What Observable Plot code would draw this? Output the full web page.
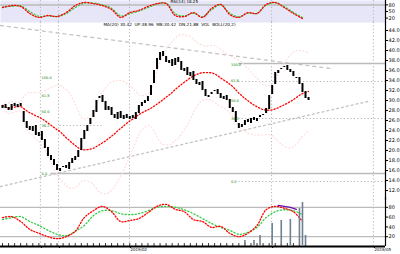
<!DOCTYPE html>
<html><head><meta charset="utf-8">
<script src="https://cdn.jsdelivr.net/npm/d3@7"></script>
<script src="https://cdn.jsdelivr.net/npm/@observablehq/plot@0.6"></script>
<style>
body{margin:0;background:#fff;}
#c{position:relative;width:400px;height:254px;overflow:hidden;font-family:"DejaVu Sans",sans-serif;}
</style></head><body><div id="c"></div>
<script>
// ---- data ----
const openP = [28.4,29.2,28.6,28.0,29.4,28.6,29.4,27.8,25.8,24.8,
 23.8,25.0,22.8,23.8,22.2,20.6,19.0,18.2,17.2,15.8,
 16.6,17.0,16.2,17.4,18.0,18.6,20.0,22.2,23.8,25.2,
 26.6,27.6,30.4,31.0,29.8,28.0,28.6,27.2,26.2,27.8,
 26.2,27.2,26.2,27.0,26.2,27.4,28.8,29.4,29.8,31.0,
 33.4,36.2,38.0,39.8,38.8,37.4,38.2,37.0,38.6,37.8,
 35.8,36.6,34.8,35.8,34.2,33.0,33.8,32.2,30.6,31.2,
 31.8,32.2,31.4,30.2,31.0,30.2,28.6,27.8,25.4,24.6,
 25.0,26.2,25.4,26.6,25.8,26.6,27.0,27.4,28.2,31.2,
 33.2,35.4,36.2,36.6,37.0,36.2,35.8,34.6,34.6,33.4,
 31.8,30.6];
const closeP = [29.0,28.4,28.0,29.2,28.8,29.2,28.8,25.6,24.4,24.0,
 24.8,23.0,23.6,22.0,20.4,18.8,18.0,17.0,16.0,16.4,
 16.8,16.4,17.6,18.4,18.8,20.0,22.4,24.0,25.0,26.4,
 28.0,30.0,30.8,29.6,28.0,28.8,27.0,26.4,27.6,26.4,
 27.0,26.4,26.8,26.4,27.6,29.0,29.6,30.0,30.8,33.0,
 36.0,38.4,39.6,38.8,37.6,38.0,36.8,38.4,37.6,36.0,
 36.4,35.0,35.6,34.0,33.2,33.6,32.0,30.8,31.0,31.6,
 32.0,31.2,30.4,30.8,30.0,28.4,27.6,25.6,24.4,25.2,
 26.0,25.6,26.4,26.0,26.4,27.0,27.2,28.4,31.0,33.0,
 35.6,36.0,36.4,36.8,36.0,35.6,34.8,34.4,33.2,31.6,
 30.4,30.0];
const oscStep = 3;
const topRed   = [68,77,73,41,23,32,27,45,77,91,86,77,59,23,45,55,73,86,86,32,27,45,23,64,82,36,23,45,41,82,91,68,41,18];
const topGreen = [70,74,75,50,28,30,28,40,68,88,88,80,64,30,40,52,68,84,88,40,30,42,26,58,80,42,26,42,42,78,90,72,46,22];
const botRed   = [59,61,51,35,27,20,16,20,31,59,73,82,71,51,53,57,69,82,86,76,71,55,51,39,41,27,20,27,43,75,82,78,71,51];
const botGreen = [55,59,61,51,43,33,25,22,31,43,63,73,73,67,65,67,73,80,82,80,75,67,57,47,39,33,25,29,39,59,71,75,73,65];
const purpIdx = [91,93,95,97];
const purpVal = [84,82,80,76];
const volIdx = [80,83,85,89,92,95,98,99,100];
const volVal = [5,5,10,22,25,26,37,43,10];
const monthIdx = [12.5,18.5,41.9,88.8,122.4];
const monthLabels = ["","","2019/02","","2019/05"];
const trendA = [[-0.66,45.0],[108.3,36.4]];
const trendB = [[-0.66,12.8],[120.5,29.8]];
const solidLevels = [37.4,15.4];
const solidFrom = [78,16];
const dotLevels = [33.8,26.4,13.8,25.0];
const dotFrom = [78,78,78,19];
const dotTo = [126.4,126.4,126.4,33];
const fibLeftP = [34.6,31.0,27.8,25.0,15.4];
const fibRightP = [37.2,34.0,30.0,26.4,13.8];
const fibLabels = ["100.0","61.8","50.0","38.2","0.0"];

// ---- derived ----
const N = closeP.length;
const idx = d3.range(N);
const candles = idx.map(i => ({i, o: openP[i], c: closeP[i]}));
const ma = idx.map(i => d3.mean(closeP.slice(Math.max(0, i - 19), i + 1)));
const sd = idx.map(i => { const w = closeP.slice(Math.max(0, i - 19), i + 1); return w.length > 1 ? d3.deviation(w) : 0; });
const band = idx.map(i => ({i, ma: ma[i], up: ma[i] + 2 * sd[i], lo: ma[i] - 2 * sd[i]}));
const osc = topRed.map((v, k) => ({i: k * oscStep, tr: v, tg: topGreen[k], br: botRed[k], bg: botGreen[k]}));
const xDom = [-0.66, 126.4];
const base = {width: 400, marginLeft: 0, marginRight: 15, marginTop: 0, marginBottom: 0,
  style: {background: "transparent", overflow: "visible", fontFamily: "DejaVu Sans"}};
const grid = () => Plot.ruleX(monthIdx, {stroke: "#b4b4b4", strokeDasharray: "1.2,2.2"});
const c = document.getElementById("c");
function place(el, top) { const d = document.createElement("div"); d.style.cssText = `position:absolute;left:0;top:${top}px;`; d.appendChild(el); c.appendChild(d); }

// ---- top oscillator ----
place(Plot.plot({...base, height: 22,
  x: {domain: xDom, axis: null}, y: {domain: [0, 100]},
  marks: [
    Plot.frame({fill: "#e6e6f8", stroke: null}),
    Plot.ruleY([80], {stroke: "#bbb", strokeWidth: 1.5}),
    grid(),
    Plot.line(osc, {x: "i", y: "tg", stroke: "#2ecc40", strokeWidth: 1.3, strokeDasharray: "1.2,2.2", curve: "catmull-rom"}),
    Plot.line(osc, {x: "i", y: "tr", stroke: "#f00", strokeWidth: 1.3, strokeDasharray: "1.2,1.8", curve: "catmull-rom"}),
    Plot.text(["RSI(14) 18.25"], {frameAnchor: "top-left", dx: 170, dy: 0, fontSize: 4, fill: "#000"}),
    Plot.ruleX([xDom[1]], {stroke: "#000", strokeWidth: 1.2}),
    Plot.axisY({anchor: "right", ticks: [20, 50, 80], tickSize: 2, tickPadding: 1, fontSize: 5, label: null})
  ]}), 0);

// ---- main price panel ----
place(Plot.plot({...base, height: 178,
  x: {domain: xDom, axis: null}, y: {domain: [10, 45.6]},
  marks: [
    grid(),
    Plot.line(trendA, {x: d => d[0], y: d => d[1], stroke: "#c4c4c4", strokeWidth: 1.3, strokeDasharray: "3,4"}),
    Plot.line(trendB, {x: d => d[0], y: d => d[1], stroke: "#c4c4c4", strokeWidth: 1.3, strokeDasharray: "2,3"}),
    Plot.ruleY(solidLevels, {y: d => d, x1: (d, k) => solidFrom[k], x2: xDom[1], stroke: "#bbb", strokeWidth: 1.3}),
    Plot.ruleY(dotLevels, {y: d => d, x1: (d, k) => dotFrom[k], x2: (d, k) => dotTo[k], stroke: "#b4b4b4", strokeDasharray: "1.2,2.2"}),
    Plot.line(band, {x: "i", y: "up", stroke: "#ffdcdc", strokeWidth: 1.2, strokeDasharray: "1,2.5", curve: "catmull-rom"}),
    Plot.line(band, {x: "i", y: "lo", stroke: "#ffdcdc", strokeWidth: 1.2, strokeDasharray: "1,2.5", curve: "catmull-rom"}),
    Plot.line(band, {x: "i", y: "ma", stroke: "#f00", strokeWidth: 1.3, strokeDasharray: "1.2,2", curve: "catmull-rom"}),
    Plot.ruleX(candles, {x: "i", y1: "o", y2: "c", stroke: "#000", strokeWidth: 2}),
    Plot.text(fibLeftP, {x: 12.9, y: d => d, text: (d, k) => fibLabels[k], fill: "#008000", fontSize: 3.5, textAnchor: "start"}),
    Plot.text(fibRightP, {x: 75.4, y: d => d, text: (d, k) => fibLabels[k], fill: "#008000", fontSize: 3.5, textAnchor: "start"}),
    Plot.text(["MA(20) 30.42  UP:38.96  MB:30.42  DN:21.88  VOL  BOLL(20,2)"], {frameAnchor: "top-left", dx: 103, dy: 1, fontSize: 4.2, fill: "#000"}),
    Plot.ruleX([xDom[1]], {stroke: "#000", strokeWidth: 1.2}),
    Plot.axisY({anchor: "right", ticks: d3.range(12, 46, 2), tickSize: 2, tickPadding: 1, fontSize: 5, tickFormat: d => d.toFixed(1), label: null})
  ]}), 22);

// ---- bottom oscillator ----
place(Plot.plot({...base, height: 57, marginBottom: 8,
  x: {domain: xDom, axis: null}, y: {domain: [0, 100]},
  marks: [
    Plot.ruleX(monthIdx, {y1: 0, y2: 96, stroke: "#b4b4b4", strokeDasharray: "1.2,2.2"}),
    Plot.ruleY([80, 20], {stroke: "#bbb", strokeWidth: 1.3}),
    Plot.line(osc, {x: "i", y: "bg", stroke: "#2ecc40", strokeWidth: 1.3, strokeDasharray: "1.2,2.2", curve: "catmull-rom"}),
    Plot.line(osc, {x: "i", y: "br", stroke: "#f00", strokeWidth: 1.3, strokeDasharray: "1.2,1.8", curve: "catmull-rom"}),
    Plot.line(purpIdx, {x: d => d, y: (d, k) => purpVal[k], stroke: "#6a0dad", strokeWidth: 1.3}),
    Plot.ruleX(d3.range(0, N, 2), {y1: 0, y2: 6, stroke: "#000", strokeWidth: 0.8}),
    Plot.ruleY([0], {stroke: "#000", strokeWidth: 2}),
    Plot.ruleX([xDom[1]], {y1: 0, y2: 100, stroke: "#000", strokeWidth: 1.2}),
    Plot.axisY({anchor: "right", ticks: [20, 40, 60, 80], tickSize: 2, tickPadding: 1, fontSize: 5, label: null}),
    Plot.axisX({ticks: monthIdx, tickFormat: (d, k) => monthLabels[k], tickSize: 2, tickPadding: 0, fontSize: 4, textAnchor: "start", dx: 1, label: null})
  ]}), 197);

// ---- volume overlay ----
place(Plot.plot({...base, height: 57, marginBottom: 9,
  x: {domain: xDom, axis: null}, y: {domain: [0, 48], axis: null},
  marks: [
    Plot.ruleX(volIdx, {x: d => d, y1: 0, y2: (d, k) => volVal[k], stroke: "#6f8090", strokeWidth: 1.6})
  ]}), 197);
</script></body></html>
